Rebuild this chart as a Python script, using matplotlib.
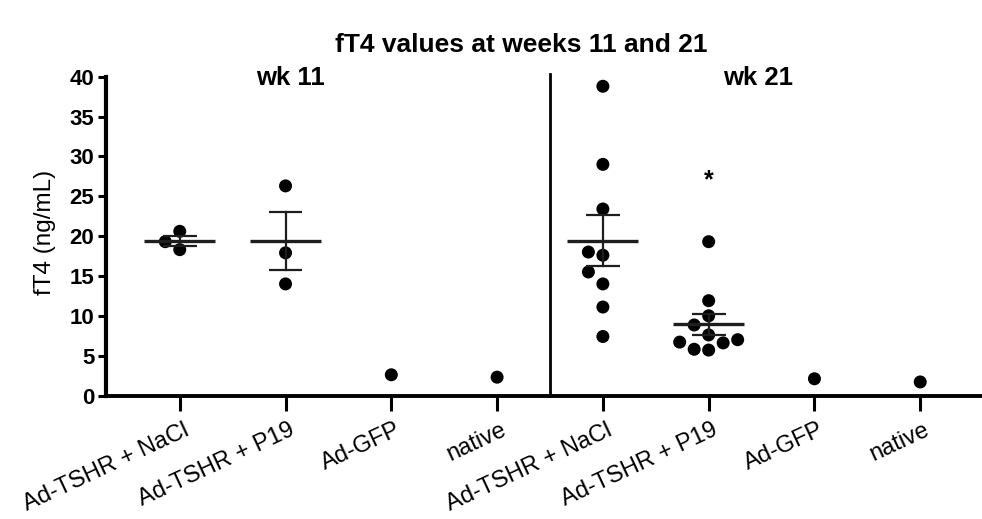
import numpy as np
import matplotlib
matplotlib.use("Agg")
import matplotlib.pyplot as plt
from matplotlib.transforms import ScaledTranslation

plt.rcParams['font.family'] = ['Liberation Sans', 'DejaVu Sans']

# ---------------- data ----------------
title = "fT4 values at weeks 11 and 21"
ylabel = "fT4 (ng/mL)"
categories = ["Ad-TSHR + NaCl", "Ad-TSHR + P19", "Ad-GFP", "native",
              "Ad-TSHR + NaCl", "Ad-TSHR + P19", "Ad-GFP", "native"]
week_labels = ["wk 11", "wk 21"]
week_label_x = [1.05, 5.47]

wk11_nacl = [20.6, 18.3, 19.3]
wk11_p19 = [26.3, 17.9, 14.0]
wk11_gfp = [2.6]
wk11_native = [2.3]
wk21_nacl = [38.8, 29.0, 23.4, 17.6, 18.0, 15.5, 14.0, 11.1, 7.4]
wk21_p19 = [19.3, 11.9, 10.0, 8.85, 7.0, 6.6, 6.7, 7.6, 5.8, 5.7]
wk21_gfp = [2.1]
wk21_native = [1.7]
groups = [wk11_nacl, wk11_p19, wk11_gfp, wk11_native,
          wk21_nacl, wk21_p19, wk21_gfp, wk21_native]

yticks = [0, 5, 10, 15, 20, 25, 30, 35, 40]
sig_group = 5
sig_label = "*"
sig_y = 27.0

# ---------------- figure ----------------
W, H, DPI = 982, 519, 100
fig = plt.figure(figsize=(W / DPI, H / DPI), dpi=DPI)
ax = fig.add_axes([105.5 / W, 1 - 395.5 / H, (W - 105.5) / W, (395.5 - 76.7) / H])
ax.set_xlim(-0.702, 7.584)
ax.set_ylim(0, 40)

dot_d_px = 13.0
step_px = 14.5
s_pts = (dot_d_px * 72 / DPI) ** 2

def swarm_offsets(vals):
    # greedy placement in pixel space: closest-to-centre slot without overlap
    tr = ax.transData
    ys = [tr.transform((0, v))[1] for v in vals]
    order = np.argsort(ys)
    placed = []
    offs = [0.0] * len(vals)
    cands = [0]
    for k in range(1, 8):
        cands += [-k, k]
    for idx in order:
        y = ys[idx]
        for c in cands:
            x = c * step_px
            if all((x - px) ** 2 + (y - py) ** 2 >= dot_d_px ** 2 for px, py in placed):
                placed.append((x, y))
                offs[idx] = x
                break
    px_per_unit = tr.transform((1, 0))[0] - tr.transform((0, 0))[0]
    return [o / px_per_unit for o in offs]

line_col = "#1e1e1e"
for i, vals in enumerate(groups):
    offs = swarm_offsets(vals)
    xs = [i + o for o in offs]
    ax.scatter(xs, vals, s=s_pts, color="black", edgecolors="none", zorder=3, clip_on=False)
    if len(vals) > 1:
        m = np.mean(vals)
        sem = np.std(vals, ddof=1) / np.sqrt(len(vals))
        ax.plot([i - 0.335, i + 0.335], [m, m], color=line_col, lw=2.4, zorder=4,
                solid_capstyle="butt")
        ax.plot([i, i], [m - sem, m + sem], color=line_col, lw=1.6, zorder=4)
        for yy in (m - sem, m + sem):
            ax.plot([i - 0.16, i + 0.16], [yy, yy], color=line_col, lw=1.6, zorder=4,
                    solid_capstyle="butt")

# divider between weeks
ax.plot([3.5, 3.5], [0, 40.3], color="black", lw=2.0, clip_on=False, zorder=2)

# significance mark
ax.text(sig_group, sig_y, sig_label, ha="center", va="center", fontsize=18,
        fontweight="bold")

# week labels
for lab, xw in zip(week_labels, week_label_x):
    ax.text(xw, 39.8, lab, ha="center", va="center", fontsize=18.5, fontweight="bold")

# spines and ticks
for side in ("top", "right"):
    ax.spines[side].set_visible(False)
ax.spines["left"].set_linewidth(3.0)
ax.spines["bottom"].set_linewidth(2.8)
ax.spines["left"].set_capstyle("projecting")

ax.set_yticks(yticks)
ax.set_yticklabels([str(t) for t in yticks], fontsize=16, fontweight="bold")
ax.tick_params(axis="y", length=6, width=2.2, pad=2, direction="out")

ax.set_xticks(range(len(categories)))
ax.set_xticklabels(categories, fontsize=17, rotation=25, ha="right", va="top",
                   rotation_mode="anchor")
ax.tick_params(axis="x", length=11, width=2.2, pad=6, direction="out")
offset = ScaledTranslation(3 / DPI, 0, fig.dpi_scale_trans)
for lab in ax.get_xticklabels():
    lab.set_transform(lab.get_transform() + offset)

fig.text(45 / W, 1 - 232 / H, ylabel, rotation=90, ha="center", va="center", fontsize=17.5)
fig.text(521 / W, 1 - 45 / H, title, ha="center", va="center", fontsize=19, fontweight="bold")

fig.savefig("out.png", dpi=DPI)
